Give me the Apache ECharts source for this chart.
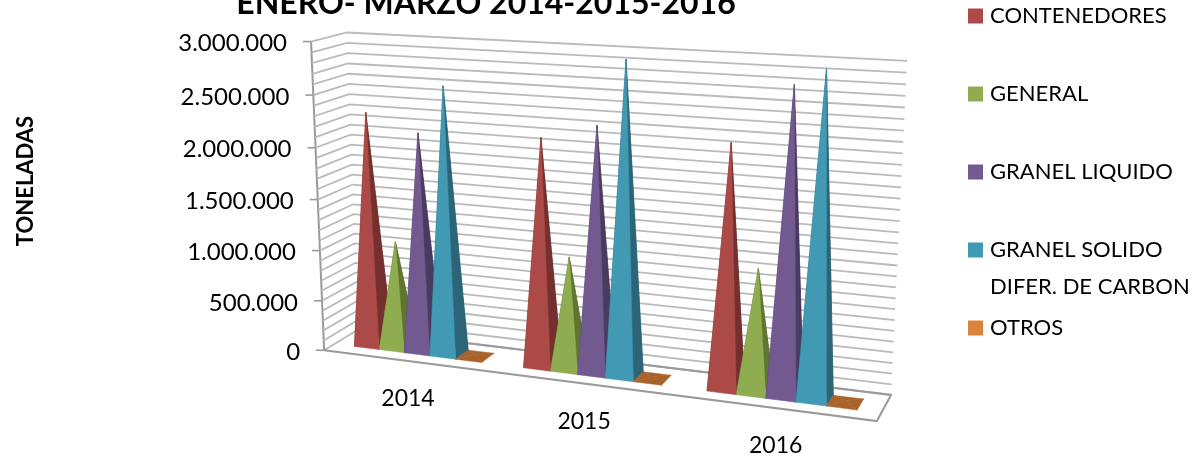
<!DOCTYPE html>
<html><head><meta charset="utf-8">
<style>html,body{margin:0;padding:0;background:#fff}#c{width:1202px;height:460px}</style>
<script src="https://cdn.jsdelivr.net/npm/echarts@6/dist/echarts.min.js"></script>
</head><body><div id="c"></div>
<script>
const years = ['2014','2015','2016'];
const contenedores = [2300000,2180000,2260000];
const general = [1060000,1080000,1150000];
const granelLiquido = [2140000,2330000,2800000];
const granelSolido = [2600000,2940000,2950000];
const otros = [20000,20000,20000];
const seriesNames = ['CONTENEDORES','GENERAL','GRANEL LIQUIDO','GRANEL SOLIDO DIFER. DE CARBON','OTROS'];
const tickValues = [0,500000,1000000,1500000,2000000,2500000,3000000];
const tickLabels = ['0','500.000','1.000.000','1.500.000','2.000.000','2.500.000','3.000.000'];
const minorStep = 100000;

const FONT='Lato';
const colors=['#AB4A46','#90AC50','#725A91','#4199B3','#DB843D'];
const fronts=['#AB4A46','#90AC50','#725A91','#4199B3','#A9622A'];
const sides=['#73302E','#5F7530','#4A3A60','#2C6577','#A9622A'];
const G={left:300,top:27,width:600,height:308};
const layout={groupStep:0.152,half:0.076,shift:0.001,z0:0.3,z1:0.72};

// corners of the 3D box on screen: [x(0-1), y(0-1), z(0 front,1 back)] -> pixel
const anchors=[
 [0,0,0,325,349],[0,1,0,310,42],[0,0,1,357,331],[0,1,1,348,32],
 [1,0,1,891,394],[1,1,1,907,61],[1,0,0,877,422]];
function solveP(){
 const A=[],b=[];
 anchors.forEach(a=>{const [X,Y,Z]=a,px=a[3]/1000,py=a[4]/1000;
  A.push([X,Y,Z,1,0,0,0,0,-px*X,-px*Y,-px*Z]);b.push(px);
  A.push([0,0,0,0,X,Y,Z,1,-py*X,-py*Y,-py*Z]);b.push(py);});
 const n=11,M=[];
 for(let i=0;i<n;i++){M[i]=[];for(let j=0;j<=n;j++){let s=0;
  for(let r=0;r<A.length;r++)s+=A[r][i]*(j<n?A[r][j]:b[r]);M[i][j]=s+((i===j)?1e-10:0);}}
 for(let i=0;i<n;i++){let m=i;for(let r=i+1;r<n;r++)if(Math.abs(M[r][i])>Math.abs(M[m][i]))m=r;
  [M[i],M[m]]=[M[m],M[i]];
  for(let r=0;r<n;r++)if(r!==i){const f=M[r][i]/M[i][i];for(let j=i;j<=n;j++)M[r][j]-=f*M[i][j];}}
 return M.map((row,i)=>row[n]/row[i]);
}
const P=solveP();
function proj(x,y,z){const w=P[8]*x+P[9]*y+P[10]*z+1;
 return [1000*(P[0]*x+P[1]*y+P[2]*z+P[3])/w,1000*(P[4]*x+P[5]*y+P[6]*z+P[7])/w];}
const toU=c=>(c[0]-G.left)/G.width, toV=c=>(G.top+G.height-c[1])/G.height;

function poly(points,fill){return {type:'polygon',shape:{points},style:{fill,stroke:fill,lineWidth:0.5},silent:true};}
function line(points,stroke,w){return {type:'polyline',shape:{points},style:{stroke,lineWidth:w,fill:'none'},silent:true};}

function pyramid(si){return function(params,api){
 const c=api.coord([api.value(0),api.value(1)]);
 const u=toU(c),v=toV(c);
 const cx=u+layout.shift+(si-2)*layout.groupStep/3,h=layout.half/3;
 const zm=(layout.z0+layout.z1)/2;
 const fl=proj(cx-h,0,layout.z0),fr=proj(cx+h,0,layout.z0),
       bl=proj(cx-h,0,layout.z1),br=proj(cx+h,0,layout.z1),tip=proj(cx,v,zm);
 return {type:'group',children:[
  poly([bl,br,tip],sides[si]),poly([fl,bl,tip],sides[si]),
  poly([fr,br,tip],sides[si]),poly([fl,fr,tip],fronts[si])]};
};}

const wallData=[];for(let t=0;t<=3000000;t+=minorStep)wallData.push([0,t]);
function wall(params,api){
 const v=toV(api.coord([0,api.value(1)]));
 const kids=[line([proj(0,v,0),proj(0,v,1),proj(1,v,1)],'#BABABA',1.8)];
 if(params.dataIndex===0){
  kids.push(line([proj(0,0,1),proj(1,0,1),proj(1,0,0),proj(0,0,0)],'#9A9A9A',2));
  kids.push(line([proj(0,0,0),proj(0,1,0)],'#9A9A9A',2));
 }
 return {type:'group',children:kids};
}
function ticks(params,api){
 const i=params.dataIndex,v=toV(api.coord([0,api.value(1)]));
 const p=proj(0,v,0);
 return {type:'group',children:[
  line([[p[0]-8,p[1]],p],'#9A9A9A',1.6),
  {type:'text',style:{text:tickLabels[i],x:p[0]-24,y:p[1]+2,align:'right',verticalAlign:'middle',
    font:'24px '+FONT,fill:'#000'},silent:true}]};
}
function catLabels(params,api){
 const u=toU(api.coord([api.value(0),0]));
 const p=proj(u,0,0);
 return {type:'text',style:{text:years[params.dataIndex],x:p[0]+1,y:p[1]+38,align:'center',verticalAlign:'middle',
   font:'23px '+FONT,fill:'#000'},silent:true};
}
const build=a=>a.map((v,i)=>[i,v]);
const arrays=[contenedores,general,granelLiquido,granelSolido,otros];
const chart=echarts.init(document.getElementById('c'),null,{renderer:'canvas'});
chart.setOption({
 animation:false,backgroundColor:'#fff',
 title:{text:'ENERO- MARZO 2014-2015-2016',left:486,textAlign:'center',top:-12,padding:0,
  textStyle:{fontFamily:FONT,fontWeight:'bold',fontSize:32,color:'#000'}},
 grid:G,
 xAxis:{type:'category',data:years,show:false},
 yAxis:{type:'value',min:0,max:3000000,interval:500000,
  name:'TONELADAS',nameLocation:'middle',nameGap:263,nameRotate:90,
  nameTextStyle:{fontFamily:FONT,fontWeight:'bold',fontSize:22,color:'#000'},
  axisLine:{show:false},axisTick:{show:false},axisLabel:{show:false},splitLine:{show:false}},
 legend:{orient:'vertical',left:968,top:5,icon:'rect',itemWidth:15,itemHeight:15,itemGap:56,padding:0,
  data:seriesNames,selectedMode:false,
  formatter:n=>n.indexOf('GRANEL SOLIDO')===0?'GRANEL SOLIDO':n,
  textStyle:{fontFamily:FONT,fontSize:22,color:'#000',padding:[0,0,0,2]}},
 graphic:[{type:'text',left:990,top:276,silent:true,style:{text:'DIFER. DE CARBON',font:'22px '+FONT,fill:'#000'}}],
 series:[
  {type:'custom',name:'walls',silent:true,renderItem:wall,data:wallData,z:1},
  {type:'custom',name:'ticks',silent:true,renderItem:ticks,data:tickValues.map(v=>[0,v]),z:2},
  {type:'custom',name:'cats',silent:true,renderItem:catLabels,data:years.map((y,i)=>[i,0]),z:2},
  ...seriesNames.map((n,si)=>({type:'custom',name:n,renderItem:pyramid(si),
    itemStyle:{color:colors[si]},data:build(arrays[si]),z:3}))
 ]
});
</script></body></html>
